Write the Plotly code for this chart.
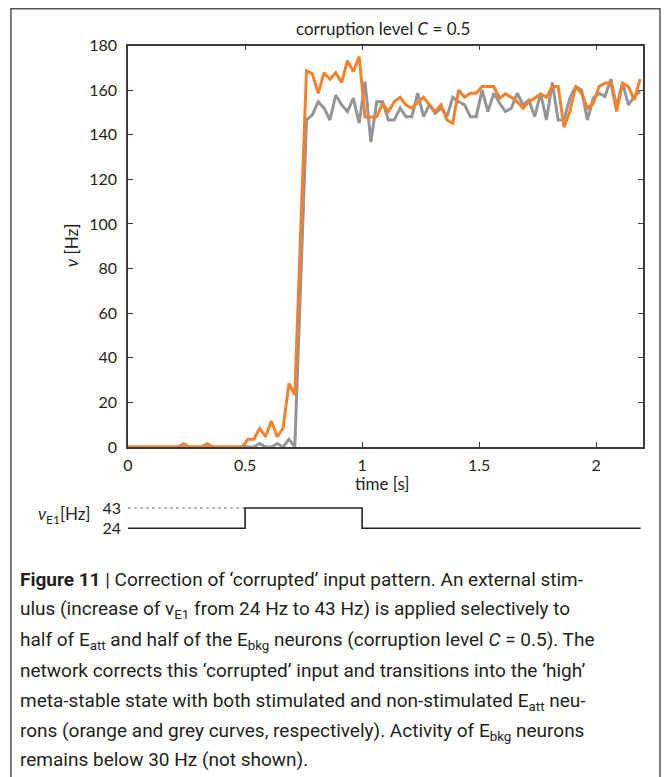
import plotly.graph_objects as go

W, H = 670, 777
OFF = 8  # the written page places the figure 8 px in from the top-left corner
def px(s): return (s - OFF) / W
def py(s): return 1 - (s - OFF) / H

# ---- data ----
# time bins (s): start point + 25 ms bin centres
time_s = [0.0] + [round(0.0125 + 0.025 * k, 4) for k in range(88)]

# stimulated E_att neurons (orange)
rate_stim = [0,
    0, 0, 0, 0, 0, 0, 0, 0, 0, 1.5,
    0, 0, 0, 1.5, 0, 0, 0, 0, 0, 0,
    3.5, 3.5, 8.4, 4.6, 11.6, 4.6, 8.4, 28.5, 23.3, 96,
    168.7, 167.3, 158.6, 167.8, 164.9, 167.8, 163.4, 173.2, 168.3, 175,
    148, 148, 148, 154, 150.4, 154.8, 156.8, 153.4, 151.9, 154.4,
    156.8, 153.4, 150.4, 153.4, 146.6, 145.2, 160.1, 156.8, 158.6, 158.6,
    161.6, 161.6, 161.6, 156.4, 158.3, 156.8, 154.8, 151.9, 154.8, 156.4,
    158.3, 156.8, 161.6, 161.6, 143.4, 150.4, 161.6, 158.6, 151.9, 154.1,
    161.6, 163.1, 163.4, 150.4, 163.1, 161.6, 155.6, 164.9]

# non-stimulated E_att neurons (grey)
rate_nonstim = [0,
    0, 0, 0, 0, 0, 0, 0, 0, 0, 0,
    0, 0, 0, 0, 0, 0, 0, 0, 0, 0,
    0, 0, 1.6, 0, 0, 1.6, 0, 3.5, 0, 73,
    146.6, 148.9, 154.8, 151.9, 146.6, 157.8, 153.4, 150.4, 156.4, 145.2,
    163.8, 136.7, 154.8, 154.8, 146.6, 146.6, 151.9, 148.1, 148.1, 158.6,
    148.1, 153.4, 149.6, 151.9, 148.1, 156.8, 154.8, 153.4, 148.1, 148.1,
    160.1, 150.4, 158.6, 154.1, 150.4, 151.9, 158.6, 153.4, 155.6, 148.1,
    158.6, 146.6, 163.4, 146.6, 146.6, 156.4, 161.6, 160.1, 146.6, 156.4,
    158.6, 157.1, 164.9, 152.6, 163.4, 153.4, 157.1, 159.4]

# external input nu_E1 (Hz)
stim_time = [0, 0.5, 0.5, 1.0, 1.0, 2.19]
stim_rate = [24, 24, 43, 43, 24, 24]
dot_time = [0, 0.5]
dot_rate = [43, 43]

x_ticks = [0, 0.5, 1, 1.5, 2]
x_ticktext = ["0", "0.5", "1", "1.5", "2"]
y_ticks = [0, 20, 40, 60, 80, 100, 120, 140, 160, 180]

ORANGE = "#F5822A"
GREY = "#939598"
AXC = "#3a3a3a"
TICKFONT = dict(family="Lato, Open Sans, sans-serif", size=16, color="#231F20")
AXFONT = dict(family="Lato, Open Sans, sans-serif", size=17, color="#231F20")
CAPFONT = dict(family="Roboto, Liberation Sans, sans-serif", size=19, color="#231F20")

fig = go.Figure()
fig.add_trace(go.Scatter(x=time_s, y=rate_nonstim, mode="lines",
                         line=dict(color=GREY, width=3), showlegend=False))
fig.add_trace(go.Scatter(x=time_s, y=rate_stim, mode="lines",
                         line=dict(color=ORANGE, width=3), showlegend=False))
fig.add_trace(go.Scatter(x=dot_time, y=dot_rate, mode="lines", xaxis="x2", yaxis="y2",
                         line=dict(color="#777777", width=1.2, dash="dot"), showlegend=False))
fig.add_trace(go.Scatter(x=stim_time, y=stim_rate, mode="lines", xaxis="x2", yaxis="y2",
                         line=dict(color="#231F20", width=1.6), showlegend=False))

fig.update_layout(
    width=W, height=H, autosize=False,
    margin=dict(l=0, r=0, t=0, b=0, autoexpand=False),
    paper_bgcolor="white", plot_bgcolor="white",
    xaxis=dict(domain=[px(128), px(643)], range=[0, 2.2], tickvals=x_ticks, ticktext=x_ticktext,
               ticks="inside", ticklen=5, tickcolor=AXC, tickwidth=1.2,
               showline=True, linecolor=AXC, linewidth=1.5, mirror="ticks",
               showgrid=False, zeroline=False, tickfont=TICKFONT, anchor="y",
               ticklabelstandoff=3, layer="below traces", automargin=False),
    yaxis=dict(domain=[py(447), py(45.5)], range=[0, 180], tickvals=y_ticks,
               ticks="inside", ticklen=5, tickcolor=AXC, tickwidth=1.2,
               showline=True, linecolor=AXC, linewidth=1.5, mirror="ticks",
               showgrid=False, zeroline=False, tickfont=TICKFONT, anchor="x",
               ticklabelstandoff=6, layer="below traces", automargin=False),
    xaxis2=dict(domain=[px(128), px(643)], range=[0, 2.2], visible=False, anchor="y2",
                automargin=False),
    yaxis2=dict(domain=[py(530.3), py(505.9)], range=[22, 45], tickvals=[24, 43],
                ticktext=["24", "43"], showline=False, showgrid=False, zeroline=False,
                ticks="", tickfont=TICKFONT, anchor="x2", ticklabelstandoff=6, automargin=False),
)

ann = []
ann.append(dict(x=px(383), y=py(28), xref="paper", yref="paper", showarrow=False,
                text="corruption level <i>C</i> = 0.5", font=AXFONT,
                xanchor="center", yanchor="middle"))
ann.append(dict(x=px(72), y=py(246), xref="paper", yref="paper", showarrow=False,
                text="<i>ν</i> [Hz]", font=AXFONT, textangle=-90,
                xanchor="center", yanchor="middle"))
ann.append(dict(x=px(383), y=py(484), xref="paper", yref="paper", showarrow=False,
                text="time [s]", font=AXFONT, xanchor="center", yanchor="middle"))
ann.append(dict(x=px(92), y=py(515), xref="paper", yref="paper", showarrow=False,
                text="<i>ν</i><sub>E1</sub>[Hz]", font=AXFONT, xanchor="right", yanchor="middle"))

caption = [
    "<b>Figure 11</b> | Correction of ‘corrupted’ input pattern. An external stim-",
    "ulus (increase of ν<sub>E1</sub> from 24 Hz to 43 Hz) is applied selectively to",
    "half of E<sub>att</sub> and half of the E<sub>bkg</sub> neurons (corruption level <i>C</i> = 0.5). The",
    "network corrects this ‘corrupted’ input and transitions into the ‘high’",
    "meta-stable state with both stimulated and non-stimulated E<sub>att</sub> neu-",
    "rons (orange and grey curves, respectively). Activity of E<sub>bkg</sub> neurons",
    "remains below 30 Hz (not shown).",
]
cap_y = [579, 609, 640, 670, 701, 731, 759]
for t, yy in zip(caption, cap_y):
    ann.append(dict(x=px(18), y=py(yy), xref="paper", yref="paper", showarrow=False,
                    text=t, font=CAPFONT, xanchor="left", yanchor="middle", align="left"))
fig.update_layout(annotations=ann)

fig.add_shape(type="rect", xref="paper", yref="paper",
              x0=px(11), x1=px(660), y0=-0.02, y1=1 - 0.75 / H,
              line=dict(color="#555555", width=1.5), fillcolor="rgba(0,0,0,0)")

fig.write_html("out.html")
